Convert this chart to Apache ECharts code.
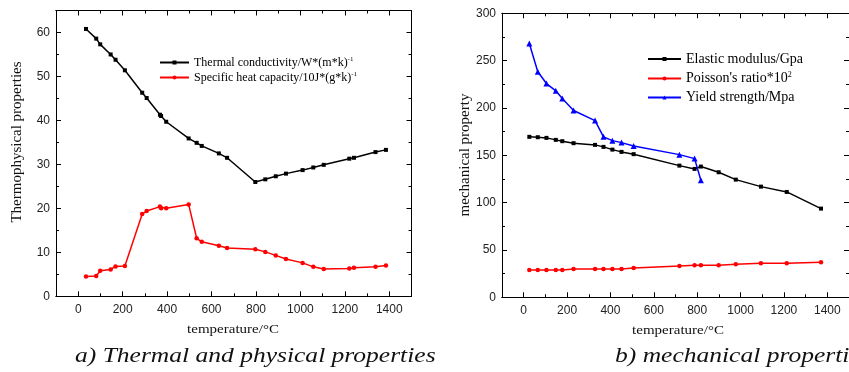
<!DOCTYPE html>
<html>
<head>
<meta charset="utf-8">
<script src="https://cdn.jsdelivr.net/npm/echarts@6/dist/echarts.min.js"></script>
<style>
html, body { margin: 0; padding: 0; background: #fff; }
#chart { width: 849px; height: 372px; }
</style>
</head>
<body>
<div id="chart"></div>
<script>
// a) thermal and physical properties
const tempA = [35, 81, 99, 146, 168, 210, 288, 308, 368, 373, 396, 497, 533, 556, 633, 670, 797, 842, 889, 935, 1010, 1058, 1105, 1220, 1241, 1338, 1385];
const conductivity = [60.8, 58.6, 57.3, 55.0, 53.8, 51.4, 46.3, 45.1, 41.3, 41.0, 39.7, 35.9, 34.9, 34.2, 32.5, 31.5, 26.0, 26.6, 27.3, 27.9, 28.7, 29.3, 29.9, 31.3, 31.5, 32.8, 33.3];
const heatCapacity = [4.5, 4.6, 5.8, 6.1, 6.8, 6.9, 18.7, 19.4, 20.4, 20.0, 20.0, 20.9, 13.2, 12.4, 11.5, 11.0, 10.7, 10.1, 9.3, 8.5, 7.6, 6.7, 6.2, 6.3, 6.5, 6.7, 7.0];

// b) mechanical properties
const tempB = [26, 65, 105, 148, 178, 230, 329, 368, 409, 451, 507, 718, 788, 817, 899, 978, 1094, 1213, 1371];
const elastic = [169.5, 169.1, 168.4, 166.3, 164.9, 162.8, 161.0, 158.9, 156.0, 153.6, 151.2, 139.1, 135.6, 138.1, 132.1, 124.3, 116.9, 111.3, 93.7];
const poisson = [28.9, 28.9, 28.9, 28.9, 28.9, 29.9, 29.9, 29.9, 29.9, 29.9, 31.0, 33.1, 33.8, 33.8, 33.8, 34.9, 35.9, 35.9, 37.0];
const yieldStrength = [268.1, 238.2, 225.8, 218.1, 209.9, 197.3, 186.7, 169.5, 165.5, 163.4, 159.9, 150.7, 146.5, 123.7];

// tick labels
const xMajor = [0, 200, 400, 600, 800, 1000, 1200, 1400];
const xMinor = [100, 300, 500, 700, 900, 1100, 1300];
const yMajorA = [0, 10, 20, 30, 40, 50, 60];
const yMinorA = [5, 15, 25, 35, 45, 55];
const yMajorB = [0, 50, 100, 150, 200, 250, 300];
const yMinorB = [25, 75, 125, 175, 225, 275];

const nameA1 = 'Thermal conductivity/W*(m*k)';
const nameA2 = 'Specific heat capacity/10J*(g*k)';
const nameB1 = 'Elastic modulus/Gpa';
const nameB2 = "Poisson's ratio*10";
const nameB3 = 'Yield strength/Mpa';
const sup = {};
sup[nameA1] = '-1';
sup[nameA2] = '-1';
sup[nameB2] = '2';

const serif = "'Liberation Serif', 'Times New Roman', serif";
const sans = "'Liberation Sans', Arial, sans-serif";

const pairs = (xs, ys) => ys.map((v, i) => [xs[i], v]);

// one axis per side and tick length: major ticks with labels, minor ticks without
const xAxes = [];
const yAxes = [];
const addAxes = (grid, xMin, xMax, yMin, yMax, xMaj, xMin2, yMaj, yMin2) => {
    ['bottom', 'top'].forEach(pos => {
        [[xMaj, 5, pos === 'bottom'], [xMin2, 3, false]].forEach(([vals, len, lab]) => {
            xAxes.push({
                type: 'value', gridIndex: grid, position: pos, min: xMin, max: xMax,
                axisLine: {show: true, onZero: false, lineStyle: {color: '#000', width: 1}},
                axisTick: {show: true, inside: true, length: len, customValues: vals, lineStyle: {color: '#000'}},
                axisLabel: {show: lab, customValues: vals, margin: 7, color: '#222', fontSize: 12, fontFamily: sans,
                    formatter: v => String(v)},
                splitLine: {show: false}
            });
        });
    });
    ['left', 'right'].forEach(pos => {
        [[yMaj, 5, pos === 'left'], [yMin2, 3, false]].forEach(([vals, len, lab]) => {
            yAxes.push({
                type: 'value', gridIndex: grid, position: pos, min: yMin, max: yMax,
                axisLine: {show: true, onZero: false, lineStyle: {color: '#000', width: 1}},
                axisTick: {show: true, inside: true, length: len, customValues: vals, lineStyle: {color: '#000'}},
                axisLabel: {show: lab, customValues: vals, margin: 6, color: '#222', fontSize: 12, fontFamily: sans,
                    formatter: v => String(v)},
                splitLine: {show: false}
            });
        });
    });
};
addAxes(0, -100, 1500, 0, 65, xMajor, xMinor, yMajorA, yMinorA);
addAxes(1, -100, 1500, 0, 300, xMajor, xMinor, yMajorB, yMinorB);

const lineSeries = (name, grid, data, color, symbol, size) => ({
    type: 'line', name, data,
    xAxisIndex: grid * 4, yAxisIndex: grid * 4,
    symbol, symbolSize: size, showSymbol: true,
    lineStyle: {color, width: 1.5},
    itemStyle: {color},
    emphasis: {disabled: true}
});

const legendFormatter = name => '{t|' + name + '}' + (sup[name] ? '{s|' + sup[name] + '}' : '');

const myChart = echarts.init(document.getElementById('chart'));
myChart.setOption({
    animation: false,
    backgroundColor: '#fff',
    grid: [
        {left: 56, top: 10.5, width: 355.5, height: 285.8},
        {left: 502, top: 13.3, width: 351, height: 284}
    ],
    xAxis: xAxes,
    yAxis: yAxes,
    legend: [
        {
            data: [nameA1, nameA2], orient: 'vertical', left: 159, top: 56, padding: 0,
            itemWidth: 29, itemHeight: 5, itemGap: 2.5,
            formatter: legendFormatter,
            textStyle: {
                color: '#000',
                rich: {
                    t: {fontSize: 12, fontFamily: serif, lineHeight: 13, color: '#000'},
                    s: {fontSize: 7, fontFamily: serif, lineHeight: 13, verticalAlign: 'top', color: '#000'}
                }
            }
        },
        {
            data: [nameB1, nameB2, nameB3], orient: 'vertical', left: 647, top: 52, padding: 0,
            itemWidth: 33, itemHeight: 5, itemGap: 5,
            formatter: legendFormatter,
            textStyle: {
                color: '#000',
                rich: {
                    t: {fontSize: 14, fontFamily: serif, lineHeight: 15, color: '#000'},
                    s: {fontSize: 8, fontFamily: serif, lineHeight: 15, verticalAlign: 'top', color: '#000'}
                }
            }
        }
    ],
    series: [
        lineSeries(nameA1, 0, pairs(tempA, conductivity), '#000', 'rect', 4),
        lineSeries(nameA2, 0, pairs(tempA, heatCapacity), '#ff0000', 'circle', 4.5),
        lineSeries(nameB1, 1, pairs(tempB, elastic), '#000', 'rect', 4),
        lineSeries(nameB2, 1, pairs(tempB, poisson), '#ff0000', 'circle', 4.5),
        lineSeries(nameB3, 1, pairs(tempB, yieldStrength), '#0000ff', 'triangle', 6)
    ],
    graphic: [
        // axis names
        {type: 'text', x: 17, y: 142, rotation: Math.PI / 2, style: {text: 'Thermophysical properties', font: '15px ' + serif, fill: '#111', align: 'center', verticalAlign: 'middle', textAlign: 'center', textVerticalAlign: 'middle'}},
        {type: 'text', x: 465, y: 155, rotation: Math.PI / 2, style: {text: 'mechanical property', font: '15px ' + serif, fill: '#111', align: 'center', verticalAlign: 'middle', textAlign: 'center', textVerticalAlign: 'middle'}},
        {type: 'text', x: 233, y: 330, scaleX: 1.2, style: {text: 'temperature/°C', font: '12.5px ' + serif, fill: '#111', align: 'center', verticalAlign: 'middle', textAlign: 'center', textVerticalAlign: 'middle'}},
        {type: 'text', x: 678, y: 331, scaleX: 1.2, style: {text: 'temperature/°C', font: '12.5px ' + serif, fill: '#111', align: 'center', verticalAlign: 'middle', textAlign: 'center', textVerticalAlign: 'middle'}},
        // captions
        {type: 'text', x: 75, y: 356, scaleX: 1.16, style: {text: 'a) Thermal and physical properties', font: 'italic 22px ' + serif, fill: '#111', align: 'left', verticalAlign: 'middle', textAlign: 'left', textVerticalAlign: 'middle'}},
        {type: 'text', x: 615, y: 356, scaleX: 1.16, style: {text: 'b) mechanical properties', font: 'italic 22px ' + serif, fill: '#111', align: 'left', verticalAlign: 'middle', textAlign: 'left', textVerticalAlign: 'middle'}}
    ]
});
</script>
</body>
</html>
